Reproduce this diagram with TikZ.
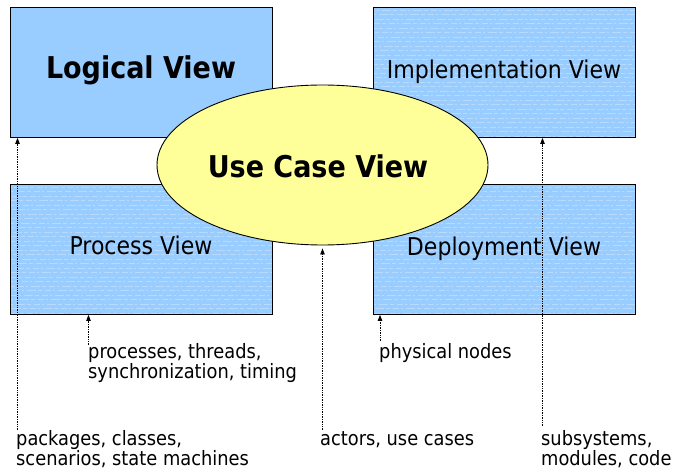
\documentclass[tikz,border=0pt]{standalone}
\usepackage{fontspec}
\setmainfont{DejaVu Sans Condensed}
\usetikzlibrary{shapes.geometric,arrows.meta,calc}
\definecolor{viewblue}{HTML}{99CCFF}
\definecolor{ucyellow}{HTML}{FFFF99}
\tikzset{
  viewbox/.style={draw=black, line width=0.9pt, fill=viewblue, minimum width=262pt, minimum height=130pt, inner sep=0pt, anchor=north west},
  bigtxt/.style={font=\fontsize{24.5}{26}\selectfont, inner sep=0pt, anchor=base},
  boldtxt/.style={font=\fontsize{30}{32}\selectfont\bfseries, inner sep=0pt, anchor=base},
  smalltxt/.style={font=\fontsize{19.8}{19.5}\selectfont, inner sep=0pt, anchor=base west},
  conn/.style={densely dotted, line width=0.7pt, -{Stealth[length=6pt,width=4.5pt,inset=0pt]}},
  texline/.style={white, opacity=0.3, line width=0.7pt, dash pattern=on 6pt off 2pt on 2pt off 3pt on 9pt off 2pt on 4pt off 3pt}
}
\newcommand{\texbox}[1]{%
  \begin{scope}
    \clip ($(#1.north west)+(1,1)$) rectangle ($(#1.south east)+(-1,-1)$);
    \foreach \yy [count=\k] in {3,7.5,...,130}
      \draw[texline, dash phase=\k*3.7pt] ($(#1.north west)+(0,\yy)$) -- ++(262,0);
  \end{scope}}
\begin{document}
\begin{tikzpicture}[x=1pt,y=-1pt]
\useasboundingbox (0,0) rectangle (673,473);
\node[viewbox] (lv) at (10,7) {};
\node[viewbox] (iv) at (373,7) {};
\node[viewbox] (pv) at (10,184) {};
\node[viewbox] (dv) at (373,184) {};
\texbox{iv}
\texbox{pv}
\texbox{dv}
\node[boldtxt] (lvt) at (141,79) {Logical View};
\node[bigtxt] (ivt) at (504,79) {Implementation View};
\node[bigtxt] (pvt) at (141,255) {Process View};
\node[bigtxt] (dvt) at (504,256) {Deployment View};
\node[ellipse, draw=black, line width=0.9pt, fill=ucyellow, minimum width=331pt, minimum height=160pt, inner sep=0pt] (uc) at (322.5,165) {};
\node[boldtxt] (uct) at (318,178) {Use Case View};
\coordinate (a1) at (17.5,430);
\coordinate (a2) at (88.5,345);
\coordinate (a3) at (322.5,430);
\coordinate (a4) at (380,341);
\coordinate (a5) at (542.5,426);
\draw[conn] (a1) -- (a1 |- lv.south);
\draw[conn] (a2) -- (a2 |- pv.south);
\draw[conn] (a3) -- ($(a3 |- uc.south)+(0,3)$);
\draw[conn] (a4) -- (a4 |- dv.south);
\draw[conn] (a5) -- (a5 |- iv.south);
\node[smalltxt] (l1) at (16,446) {\vtop{\hbox{packages, classes,}\hbox{scenarios, state machines}}};
\node[smalltxt] (l2) at (88,359) {\vtop{\hbox{processes, threads,}\hbox{synchronization, timing}}};
\node[smalltxt] (l3) at (320,446) {actors, use cases};
\node[smalltxt] (l4) at (379,359) {physical nodes};
\node[smalltxt] (l5) at (541,446) {\vtop{\hbox{subsystems,}\hbox{modules, code}}};
\end{tikzpicture}
\end{document}
